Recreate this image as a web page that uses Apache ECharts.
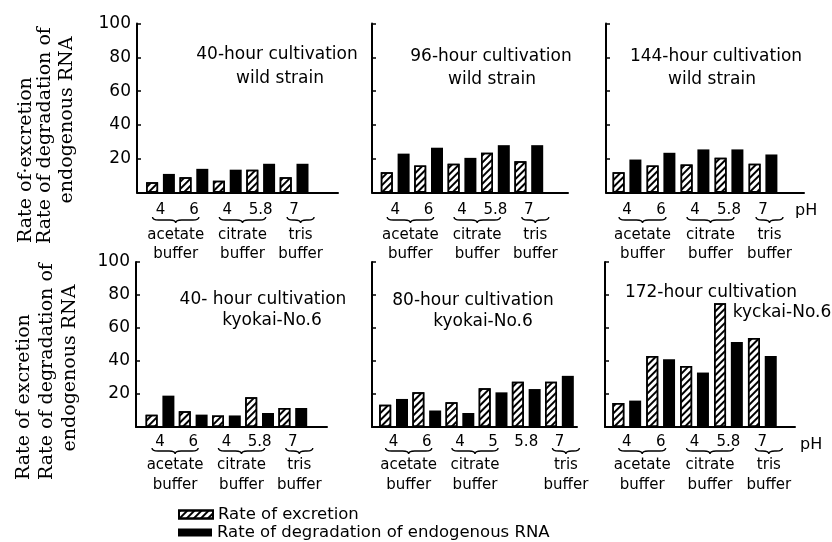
<!DOCTYPE html>
<html><head><meta charset="utf-8">
<script src="https://cdn.jsdelivr.net/npm/echarts@6/dist/echarts.min.js"></script>
<style>html,body{margin:0;padding:0;background:#fff}#c{width:832px;height:542px}</style>
</head><body><div id="c"></div>
<script>
// ---------- data ----------
const seriesNames = ['Rate of excretion', 'Rate of degradation of endogenous RNA'];
const yMin = 0, yMax = 100, yStep = 20;

const ph1 = ['4', '6', '4', '5.8', '7'];
const excretion1 = [6, 9, 7, 13.5, 9];
const degradation1 = [11, 14, 13.5, 17, 17];
const buffers1 = [[0, 1, 'acetate\nbuffer'], [2, 3, 'citrate\nbuffer'], [4, 4, 'tris\nbuffer']];
const title1 = ['40-hour cultivation', 'wild strain'];

const ph2 = ['4', '6', '4', '5.8', '7'];
const excretion2 = [12, 16, 17, 23.5, 18.5];
const degradation2 = [23, 26.5, 20.5, 28, 28];
const buffers2 = [[0, 1, 'acetate\nbuffer'], [2, 3, 'citrate\nbuffer'], [4, 4, 'tris\nbuffer']];
const title2 = ['96-hour cultivation', 'wild strain'];

const ph3 = ['4', '6', '4', '5.8', '7'];
const excretion3 = [12, 16, 16.5, 20.5, 17];
const degradation3 = [19.5, 23.5, 25.5, 25.5, 22.5];
const buffers3 = [[0, 1, 'acetate\nbuffer'], [2, 3, 'citrate\nbuffer'], [4, 4, 'tris\nbuffer']];
const title3 = ['144-hour cultivation', 'wild strain'];

const ph4 = ['4', '6', '4', '5.8', '7'];
const excretion4 = [7.5, 9.5, 7, 18, 11.5];
const degradation4 = [19, 7.5, 7, 8.5, 11.5];
const buffers4 = [[0, 1, 'acetate\nbuffer'], [2, 3, 'citrate\nbuffer'], [4, 4, 'tris\nbuffer']];
const title4 = ['40- hour cultivation', 'kyokai-No.6'];

const ph5 = ['4', '6', '4', '5', '5.8', '7'];
const excretion5 = [13.5, 21, 15, 23.5, 27.5, 27.5];
const degradation5 = [17, 10, 8.5, 21, 23, 31];
const buffers5 = [[0, 1, 'acetate\nbuffer'], [2, 3, 'citrate\nbuffer'], [5, 5, 'tris\nbuffer']];
const title5 = ['80-hour cultivation', 'kyokai-No.6'];

const ph6 = ['4', '6', '4', '5.8', '7'];
const excretion6 = [14.5, 43, 37, 75, 54];
const degradation6 = [16, 41, 33, 51.5, 43];
const buffers6 = [[0, 1, 'acetate\nbuffer'], [2, 3, 'citrate\nbuffer'], [4, 4, 'tris\nbuffer']];
const title6 = ['172-hour cultivation', 'kyckai-No.6'];

const yTitleExcretion = ['Rate of·excretion', 'Rate of excretion'];
const yTitleDegradation = ['Rate of degradation of', 'endogenous RNA'];
const phName = 'pH';

// ---------- layout / style ----------
const SANS = '"DejaVu Sans", sans-serif';
const SERIF = '"DejaVu Serif", serif';
const rows = [
  { top: 23.5, bottom: 192.5, margin: 10, braceDy: 24.5, braceH: 6, textDy: 33, lineH: 19 },
  { top: 262, bottom: 427, margin: 7.5, braceDy: 21, braceH: 6, textDy: 28, lineH: 20 }
];
const panels = [
  { ph: ph1, exc: excretion1, deg: degradation1, buf: buffers1, title: title1, row: 0, frame: [137, 338], bar: [143.8, 167], yLabels: true, tpos: [[277, 55], [280, 79]] },
  { ph: ph2, exc: excretion2, deg: degradation2, buf: buffers2, title: title2, row: 0, frame: [372, 568], bar: [378.5, 167], yLabels: false, tpos: [[491, 57], [492, 80]] },
  { ph: ph3, exc: excretion3, deg: degradation3, buf: buffers3, title: title3, row: 0, frame: [606, 804], bar: [610, 170], yLabels: false, tpos: [[716, 57], [712, 80]], phPos: [795, 211] },
  { ph: ph4, exc: excretion4, deg: degradation4, buf: buffers4, title: title4, row: 1, frame: [136, 327], bar: [143.4, 166], yLabels: true, tpos: [[263, 300], [272, 321]] },
  { ph: ph5, exc: excretion5, deg: degradation5, buf: buffers5, title: title5, row: 1, frame: [372, 577], bar: [377, 199], yLabels: false, tpos: [[473, 301], [483, 322]] },
  { ph: ph6, exc: excretion6, deg: degradation6, buf: buffers6, title: title6, row: 1, frame: [605, 795], bar: [609.8, 169.5], yLabels: false, tpos: [[711, 293], [782, 313]], phPos: [800, 445] }
];

const hatchStyle = {
  color: '#fff', borderColor: '#000', borderWidth: 1.5,
  decal: { symbol: 'rect', symbolSize: 1, dashArrayX: [1, 0], dashArrayY: [2, 3], rotation: -Math.PI / 4, color: '#000' }
};
const solidStyle = { color: '#000', borderColor: '#000', borderWidth: 0 };

function braceRender(p, row) {
  return function (params, api) {
    const s = api.value(0), e = api.value(2);
    const ps = api.coord([s, 0]), pe = api.coord([e, 0]);
    const single = s === e;
    const x1 = ps[0] - (single ? 7 : 8), x2 = pe[0] + (single ? 20 : 5);
    const y0 = ps[1] + row.braceDy, h = row.braceH, ym = y0 + h / 2;
    const xm = (x1 + x2) / 2, r = Math.min(6, (x2 - x1) / 4);
    const d = 'M' + x1 + ' ' + y0 + ' Q' + x1 + ' ' + ym + ' ' + (x1 + r) + ' ' + ym +
      ' L' + (xm - r) + ' ' + ym + ' Q' + xm + ' ' + ym + ' ' + xm + ' ' + (y0 + h) +
      ' Q' + xm + ' ' + ym + ' ' + (xm + r) + ' ' + ym +
      ' L' + (x2 - r) + ' ' + ym + ' Q' + x2 + ' ' + ym + ' ' + x2 + ' ' + y0;
    const label = p.buf[params.dataIndex][2];
    return {
      type: 'group',
      children: [
        { type: 'path', shape: { pathData: d }, style: { stroke: '#000', fill: null, lineWidth: 1.4 } },
        { type: 'text', style: { text: label, x: xm, y: ps[1] + row.textDy, align: 'center', verticalAlign: 'top',
            textAlign: 'center', textVerticalAlign: 'top', fontSize: 15, fontFamily: SANS, fill: '#000', lineHeight: row.lineH } }
      ]
    };
  };
}

const grid = [], xAxis = [], yAxis = [], series = [], graphic = [];
panels.forEach(function (p, i) {
  const row = rows[p.row];
  const fg = 2 * i, bg = 2 * i + 1;
  grid.push({ left: p.frame[0], top: row.top, width: p.frame[1] - p.frame[0], height: row.bottom - row.top, outerBoundsMode: 'none' });
  grid.push({ left: p.bar[0], top: row.top, width: p.bar[1], height: row.bottom - row.top, outerBoundsMode: 'none' });
  xAxis.push({ gridIndex: fg, type: 'value', min: 0, max: 1,
    axisLine: { show: true, onZero: false, lineStyle: { color: '#000', width: 2 } },
    axisTick: { show: false }, axisLabel: { show: false }, splitLine: { show: false } });
  yAxis.push({ gridIndex: fg, type: 'value', min: yMin, max: yMax, interval: yStep,
    axisLine: { show: true, onZero: false, lineStyle: { color: '#000', width: 2 } },
    axisTick: { show: true, inside: true, length: 4, lineStyle: { color: '#000', width: 1.5 } },
    axisLabel: { show: p.yLabels, color: '#000', fontSize: 17, fontFamily: SANS, margin: 6,
      formatter: function (v) { return v === 0 ? '' : String(v); } },
    splitLine: { show: false } });
  xAxis.push({ gridIndex: bg, type: 'category', data: p.ph,
    axisLine: { show: false }, axisTick: { show: false },
    axisLabel: { color: '#000', fontSize: 15, fontFamily: SANS, margin: row.margin, interval: 0 } });
  yAxis.push({ gridIndex: bg, type: 'value', min: yMin, max: yMax, show: false });
  series.push({ type: 'bar', name: seriesNames[0], xAxisIndex: bg, yAxisIndex: bg, data: p.exc,
    barWidth: 12, barGap: '40%', itemStyle: hatchStyle, emphasis: { disabled: true }, silent: true });
  series.push({ type: 'bar', name: seriesNames[1], xAxisIndex: bg, yAxisIndex: bg, data: p.deg,
    barWidth: 12, barGap: '40%', itemStyle: solidStyle, emphasis: { disabled: true }, silent: true });
  series.push({ type: 'custom', xAxisIndex: bg, yAxisIndex: bg, clip: false, silent: true,
    data: p.buf.map(function (b) { return [b[0], 0, b[1]]; }), renderItem: braceRender(p, row) });
  p.title.forEach(function (t, k) {
    graphic.push({ type: 'text', x: p.tpos[k][0], y: p.tpos[k][1], silent: true,
      style: { text: t, fontSize: 17, fontFamily: SANS, fill: '#000', align: 'center', verticalAlign: 'middle', textAlign: 'center', textVerticalAlign: 'middle' } });
  });
  if (p.phPos) {
    graphic.push({ type: 'text', x: p.phPos[0], y: p.phPos[1], silent: true,
      style: { text: phName, fontSize: 16, fontFamily: SANS, fill: '#000', align: 'left', verticalAlign: 'middle', textAlign: 'left', textVerticalAlign: 'middle' } });
  }
});

// rotated y-axis titles
const yTitles = [
  { text: yTitleExcretion[0], x: 26, y: 243, align: 'left' },
  { text: yTitleDegradation[0], x: 45, y: 244, align: 'left' },
  { text: yTitleDegradation[1], x: 67, y: 120, align: 'center' },
  { text: yTitleExcretion[1], x: 24, y: 480, align: 'left' },
  { text: yTitleDegradation[0], x: 47, y: 480, align: 'left' },
  { text: yTitleDegradation[1], x: 70, y: 368, align: 'center' }
];
yTitles.forEach(function (t) {
  graphic.push({ type: 'text', x: t.x, y: t.y, rotation: Math.PI / 2, silent: true,
    style: { text: t.text, fontSize: 19, fontFamily: SERIF, fill: '#000', align: t.align, verticalAlign: 'middle', textAlign: t.align, textVerticalAlign: 'middle' } });
});

const legendBase = { orient: 'vertical', left: 178, itemWidth: 34, itemHeight: 8, itemGap: 0, padding: 0,
  icon: 'rect', selectedMode: false, textStyle: { color: '#000', fontSize: 16.5, fontFamily: SANS } };

const chart = echarts.init(document.getElementById('c'), null, { renderer: 'canvas' });
chart.setOption({
  animation: false,
  backgroundColor: '#fff',
  grid: grid, xAxis: xAxis, yAxis: yAxis, series: series, graphic: graphic,
  legend: [
    Object.assign({}, legendBase, { data: [seriesNames[0]], top: 506 }),
    Object.assign({}, legendBase, { data: [seriesNames[1]], top: 524 })
  ]
});
</script></body></html>
